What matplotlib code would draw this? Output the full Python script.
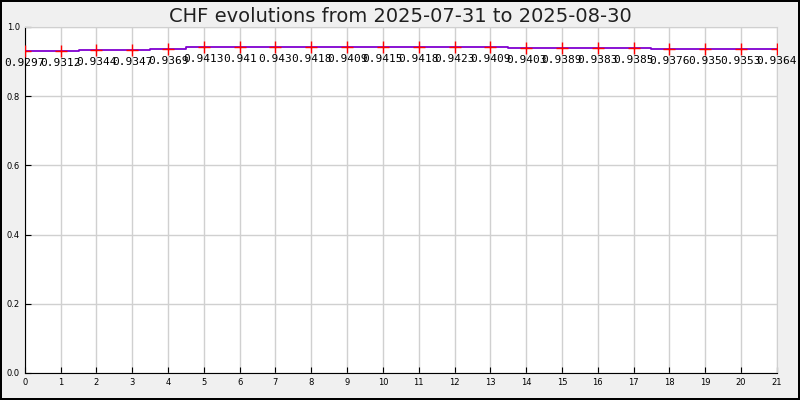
import numpy as np
import matplotlib
matplotlib.use('Agg')
import matplotlib.pyplot as plt

# CHF rates, one per day index
days = list(range(22))
rates = [0.9297, 0.9312, 0.9344, 0.9347, 0.9369, 0.9413, 0.941, 0.943, 0.9418, 0.9409,
         0.9415, 0.9418, 0.9423, 0.9409, 0.9403, 0.9389, 0.9383, 0.9385, 0.9376, 0.935,
         0.9353, 0.9364]
labels = ['0.9297', '0.9312', '0.9344', '0.9347', '0.9369', '0.9413', '0.941', '0.943',
          '0.9418', '0.9409', '0.9415', '0.9418', '0.9423', '0.9409', '0.9403', '0.9389',
          '0.9383', '0.9385', '0.9376', '0.935', '0.9353', '0.9364']
title = 'CHF evolutions from 2025-07-31 to 2025-08-30'

fig = plt.figure(figsize=(8, 4), dpi=100)
fig.patch.set_facecolor('#f0f0f0')
fig.patch.set_edgecolor('black')
fig.patch.set_linewidth(1.5)

ax = fig.add_axes([0.031, 0.0675, 0.94, 0.865])
ax.set_facecolor('white')
ax.plot(days, rates, drawstyle='steps-mid', color='#8000d0', lw=1.3, zorder=3)
ax.plot(days, rates, ls='none', marker='+', color='red', ms=9, mew=1, zorder=4)
for x, y, t in zip(days, rates, labels):
    ax.annotate(t, (x, y), xytext=(0, -5), textcoords='offset points',
                ha='center', va='top', fontsize=8, family='DejaVu Sans Mono', zorder=5,
                annotation_clip=False)

ax.set_xlim(0, 21)
ax.set_ylim(0, 1)
ax.set_xticks(days)
ax.set_yticks(np.arange(0, 1.01, 0.2))
ax.yaxis.set_major_formatter(matplotlib.ticker.FormatStrFormatter('%.1f'))
ax.tick_params(direction='in', labelsize=6, length=4, color='black')
ax.grid(True, color='#d0d0d0', lw=1)
ax.set_axisbelow(True)
for s in ['top', 'right']:
    ax.spines[s].set_color('#d0d0d0')
ax.spines['left'].set_color('black')
ax.spines['bottom'].set_color('black')

fig.text(0.5, 0.96, title, ha='center', va='center', fontsize=14,
         family='DejaVu Sans', color='#202020')

fig.savefig('out.png', dpi=100, facecolor=fig.get_facecolor(), edgecolor=fig.get_edgecolor())
